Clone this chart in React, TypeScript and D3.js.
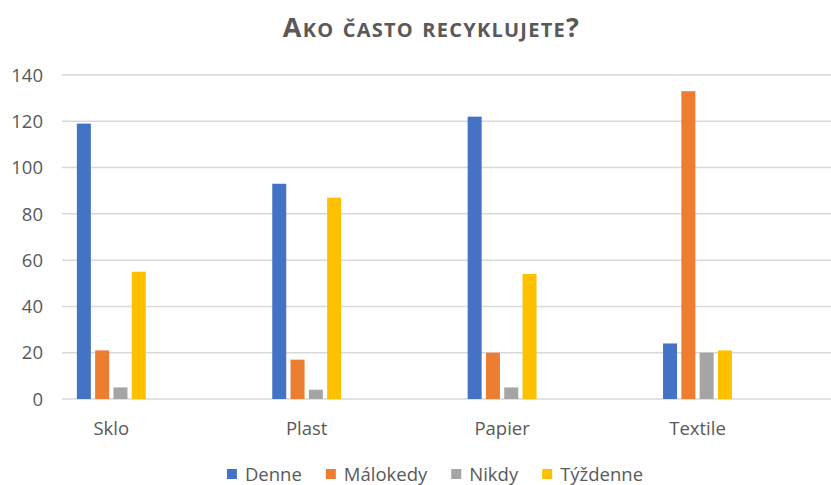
import React, { useEffect, useRef } from "react";
import * as d3 from "d3";

const categories = ["Sklo", "Plast", "Papier", "Textile"];
const seriesNames = ["Denne", "Málokedy", "Nikdy", "Týždenne"];
const denne = [119, 93, 122, 24];
const malokedy = [21, 17, 20, 133];
const nikdy = [5, 4, 5, 20];
const tyzdenne = [55, 87, 54, 21];
const yTicks = [0, 20, 40, 60, 80, 100, 120, 140];
const colors = ["#4472C4", "#ED7D31", "#A5A5A5", "#FFC000"];
const title = "Ako často recyklujete?";

const W = 831;
const H = 485;
const FONT = "'Open Sans', sans-serif";

export default function App() {
  const ref = useRef<SVGSVGElement | null>(null);

  useEffect(() => {
    const svg = d3.select(ref.current);
    svg.selectAll("*").remove();

    const values = [denne, malokedy, nikdy, tyzdenne];

    const y = d3.scaleLinear().domain([0, 140]).range([399, 75]);
    const x = d3.scaleBand().domain(categories).range([13.6, 795.2]).padding(0);
    const xs = d3.scaleBand().domain(seriesNames).range([-36.6, 36.6]).paddingInner(0.235).paddingOuter(0.1175);

    svg.append("rect").attr("width", W).attr("height", H).attr("fill", "#ffffff");

    // title (small caps built from runs)
    const runs: { t: string; small: boolean }[] = [];
    for (const ch of title) {
      const small = ch !== ch.toUpperCase();
      const last = runs[runs.length - 1];
      if (last && last.small === small) last.t += small ? ch.toUpperCase() : ch;
      else runs.push({ t: small ? ch.toUpperCase() : ch, small });
    }
    const tt = svg.append("text")
      .attr("x", 431.5)
      .attr("y", 36.5)
      .attr("text-anchor", "middle")
      .attr("font-family", FONT)
      .attr("font-weight", 700)
      .attr("letter-spacing", 1.25)
      .attr("fill", "#595959");
    runs.forEach((r) => {
      tt.append("tspan").attr("font-size", r.small ? 20 : 27).text(r.t);
    });

    // gridlines
    svg.append("g").selectAll("line").data(yTicks).join("line")
      .attr("x1", 62).attr("x2", 831)
      .attr("y1", (d) => y(d)).attr("y2", (d) => y(d))
      .attr("stroke", "#d9d9d9").attr("stroke-width", 1.5);

    // y labels
    svg.append("g").selectAll("text").data(yTicks).join("text")
      .attr("x", 43).attr("y", (d) => y(d))
      .attr("dy", "0.36em")
      .attr("text-anchor", "end")
      .attr("font-family", FONT).attr("font-size", 18.5)
      .attr("fill", "#595959")
      .text((d) => String(d));

    // bars
    seriesNames.forEach((s, si) => {
      svg.append("g").selectAll("rect").data(values[si]).join("rect")
        .attr("x", (d, i) => (x(categories[i]) as number) + x.bandwidth() / 2 + (xs(s) as number))
        .attr("width", xs.bandwidth())
        .attr("y", (d) => y(d))
        .attr("height", (d) => y(0) - y(d))
        .attr("fill", colors[si]);
    });

    // category labels
    svg.append("g").selectAll("text").data(categories).join("text")
      .attr("x", (d) => (x(d) as number) + x.bandwidth() / 2)
      .attr("y", 435)
      .attr("text-anchor", "middle")
      .attr("font-family", FONT).attr("font-size", 18.5)
      .attr("fill", "#595959")
      .text((d) => d);

    // legend
    const lg = svg.append("g");
    const items = seriesNames.map((s, i) => {
      const g = lg.append("g");
      g.append("rect").attr("width", 10).attr("height", 10).attr("y", 469).attr("fill", colors[i]);
      const t = g.append("text").attr("x", 18).attr("y", 481)
        .attr("font-family", FONT).attr("font-size", 18.5)
        .attr("fill", "#595959").text(s);
      const w = (t.node() as SVGTextElement).getComputedTextLength();
      return { g, w: 18 + w };
    });
    const gap = 24;
    const total = items.reduce((a, b) => a + b.w, 0) + gap * (items.length - 1);
    let cx = 435 - total / 2;
    items.forEach((it) => {
      it.g.attr("transform", `translate(${cx},0)`);
      cx += it.w + gap;
    });
  }, []);

  return (
    <svg ref={ref} width={W} height={H} style={{ display: "block", position: "absolute", left: 0, top: 0 }} />
  );
}
